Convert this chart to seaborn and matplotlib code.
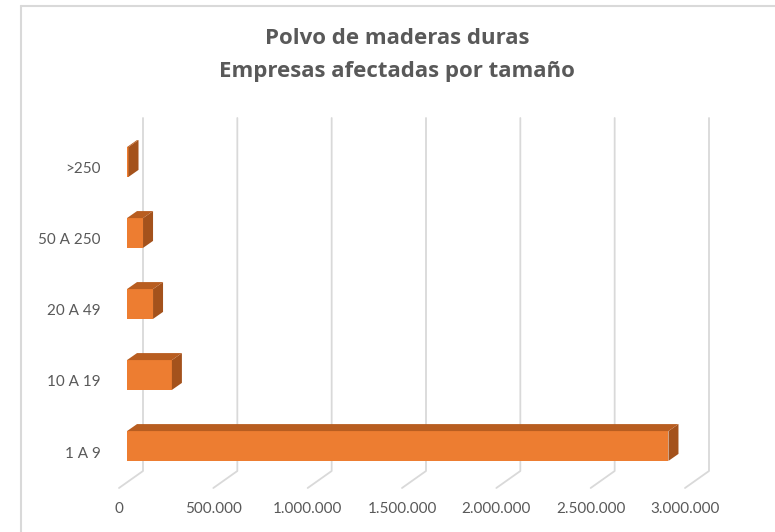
import pandas as pd
import matplotlib
matplotlib.use('Agg')
import matplotlib.pyplot as plt
import matplotlib.transforms as mtransforms
import seaborn as sns
from matplotlib.patches import Polygon
from matplotlib.lines import Line2D
from matplotlib.ticker import FuncFormatter

# Data
tamanos = ['>250', '50 A 250', '20 A 49', '10 A 19', '1 A 9']
empresas = [8000, 85000, 138000, 238000, 2870000]
ticks = [0, 500000, 1000000, 1500000, 2000000, 2500000, 3000000]

df = pd.DataFrame({'Tamaño': tamanos, 'Empresas': empresas})

sns.set_theme(style='white')
plt.rcParams['font.family'] = ['Lato', 'DejaVu Sans']

W, H = 775, 532
GRAY = '#595959'
GRID = '#D9D9D9'
FRONT = '#ED7D31'
SIDE = '#A4521C'
TOP = '#B85D20'

fig = plt.figure(figsize=(W / 100, H / 100), dpi=100)
ax = fig.add_axes([119 / W, 1 - 488 / H, (685 - 119) / W, (488 - 118) / H])

sns.barplot(data=df, x='Empresas', y='Tamaño', order=tamanos, color=FRONT,
            saturation=1, width=0.42, ax=ax, zorder=3)

ax.set_xlim(0, 3000000)
ax.set_ylim(4.507, -0.704)
ax.set_xticks(ticks)
ax.xaxis.set_major_formatter(FuncFormatter(lambda v, p: f'{int(v):,}'.replace(',', '.')))
ax.set_xlabel('')
ax.set_ylabel('')
ax.grid(False)
for s in ax.spines.values():
    s.set_visible(False)
ax.tick_params(axis='x', length=0, pad=10, labelsize=11, labelcolor=GRAY)
ax.tick_params(axis='y', length=0, pad=13, labelsize=11, labelcolor=GRAY)

# pseudo 3D: offsets in pixels (x right, y up)
bar_off = (8, 6)
depth = (10, 7)
wall = (24, 17)

shift = mtransforms.ScaledTranslation(bar_off[0] / 100, bar_off[1] / 100, fig.dpi_scale_trans)
ident = mtransforms.IdentityTransform()

# back wall gridlines + floor diagonals
ybot = ax.get_ylim()[0]
for t in ticks:
    xf, yf = ax.transData.transform((t, ybot))
    xb, yb = xf + wall[0], yf + wall[1]
    ax.add_line(Line2D([xf, xb, xb], [yf, yb, H - 118], transform=ident,
                       color=GRID, lw=1.3, zorder=1, clip_on=False))

for p in ax.patches:
    x0, y0 = p.get_x(), p.get_y()
    w, h = p.get_width(), p.get_height()
    (ax0, ay0) = ax.transData.transform((x0, y0))
    (ax1, ay1) = ax.transData.transform((x0 + w, y0 + h))
    left, right = ax0 + bar_off[0], ax1 + bar_off[0]
    top = max(ay0, ay1) + bar_off[1]
    bottom = min(ay0, ay1) + bar_off[1]
    dx, dy = depth
    side = Polygon([(right, bottom), (right + dx, bottom + dy), (right + dx, top + dy), (right, top)],
                   closed=True, facecolor=SIDE, edgecolor='none', transform=ident, zorder=3, clip_on=False)
    topf = Polygon([(left, top), (left + dx, top + dy), (right + dx, top + dy), (right, top)],
                   closed=True, facecolor=TOP, edgecolor='none', transform=ident, zorder=3, clip_on=False)
    ax.add_patch(side)
    ax.add_patch(topf)
    p.set_transform(ax.transData + shift)
    p.set_clip_on(False)
    p.set_edgecolor('none')

fig.text(397 / W, 1 - 55 / H, 'Polvo de maderas duras\nEmpresas afectadas por tamaño',
         ha='center', va='center', fontsize=16, fontweight='bold', color=GRAY,
         linespacing=1.8, family=['Open Sans', 'DejaVu Sans'])

# chart frame
fig.add_artist(Line2D([20.5 / W, 20.5 / W], [0, 1 - 5.5 / H], transform=fig.transFigure, color=GRID, lw=1.5))
fig.add_artist(Line2D([20.5 / W, 1], [1 - 5.5 / H, 1 - 5.5 / H], transform=fig.transFigure, color=GRID, lw=1.5))

fig.savefig('out.png', dpi=100)
